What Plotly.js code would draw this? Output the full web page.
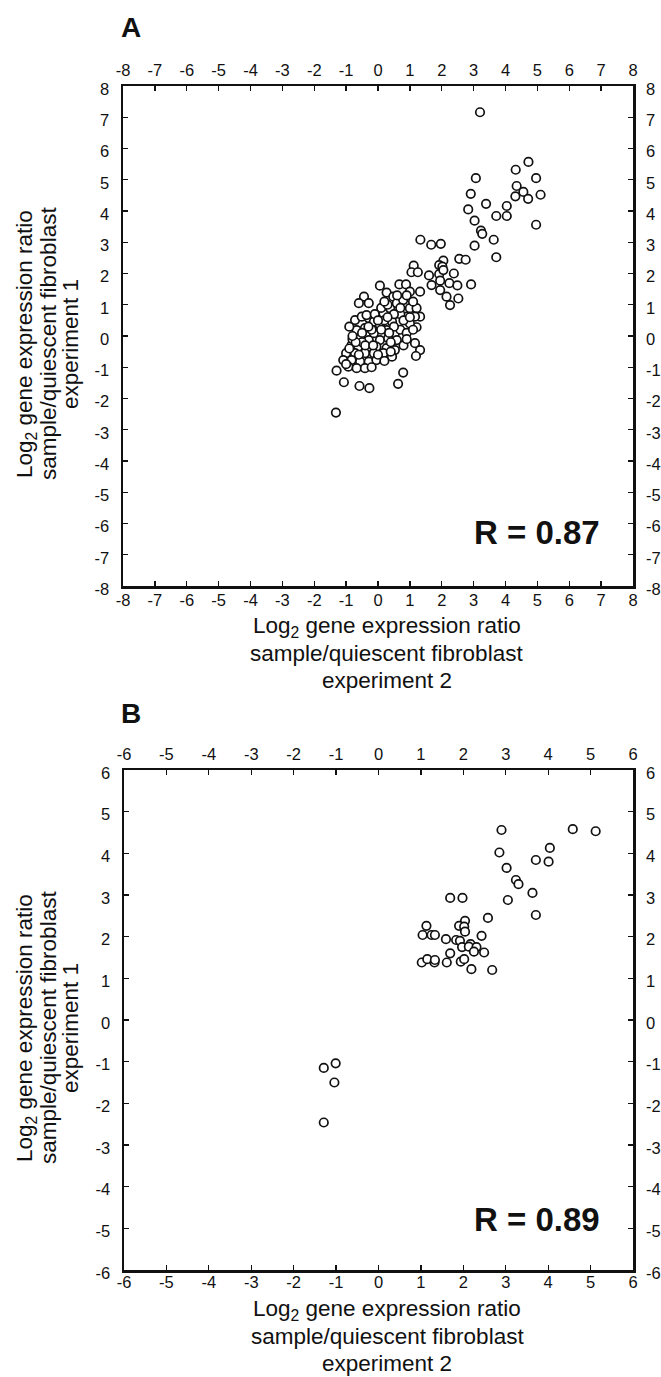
<!DOCTYPE html>
<html>
<head>
<meta charset="utf-8">
<script src="https://cdn.plot.ly/plotly-3.0.1.min.js"></script>
<style>html,body{margin:0;padding:0;background:#fff;}#chart{width:661px;height:1377px;}</style>
</head>
<body>
<div id="chart"></div>
<script>
// ---- Panel A data (Log2 ratio, experiment 2 vs experiment 1) ----
const xA = [3.2,4.72,4.32,3.07,4.96,4.35,4.56,4.31,4.71,5.1,2.91,3.39,2.83,4.04,3.71,4.04,3.03,4.96,3.23,3.27,3.63,3.03,3.71,
  1.33,1.67,1.97,2.55,2.75,2.05,1.92,2.02,1.12,1.05,1.25,1.6,1.92,2.38,2.05,0.06,0.67,0.88,1.68,1.95,2.24,2.49,2.92,
  1.95,2.15,2.26,2.52,0.27,0.48,1.0,1.32,-0.44,-0.6,-0.29,0.17,0.38,0.59,0.79,1.0,1.21,1.32,1.16,0.9,1.21,0.65,0.44,
  -0.72,-0.51,-0.29,-0.13,0.06,0.27,-0.67,-0.41,-0.13,-0.56,-0.29,0.06,0.32,0.53,0.59,-0.83,-0.62,-0.36,-0.05,0.27,0.53,
  1.16,1.32,1.19,-1.0,-0.72,-0.41,-0.13,0.17,0.44,-1.09,-0.83,-0.56,-0.29,-0.05,-0.93,-0.67,-0.41,-1.3,0.79,-1.07,-0.58,
  -0.27,0.63,-1.32,-0.36,
  0.1,0.3,0.7,0.9,1.1,0.5,0.2,-0.2,0.7,0.9,1.0,-0.5,0.4,0.0,0.8,-0.8,-0.9,
  -0.9,-0.7,-0.5,-0.3,-0.1,0.1,0.3,0.5,0.7,0.8,1.0,0.6,0.4,0.2,-0.2,-0.6,-1.0,-0.8,0.0,0.2,0.9,1.1,-0.4,-0.15,0.35];
const yA = [7.16,5.57,5.32,5.05,5.05,4.8,4.61,4.47,4.39,4.52,4.55,4.23,4.05,4.16,3.84,3.84,3.69,3.56,3.37,3.27,3.08,2.89,2.52,
  3.08,2.92,2.95,2.47,2.44,2.41,2.27,2.22,2.25,2.04,2.04,1.94,1.98,2.0,2.11,1.61,1.65,1.65,1.63,1.77,1.69,1.62,1.65,
  1.47,1.26,0.99,1.2,1.39,1.26,1.42,1.42,1.26,1.05,1.05,0.73,0.89,1.05,1.15,0.89,0.89,0.62,0.62,0.62,0.28,0.46,0.46,
  0.51,0.62,0.57,0.46,0.35,0.19,0.19,0.25,0.09,-0.07,-0.13,-0.13,-0.07,0.09,-0.13,-0.29,-0.34,-0.39,-0.34,-0.39,-0.45,
  -0.23,-0.45,-0.64,-0.55,-0.55,-0.55,-0.55,-0.55,-0.66,-0.77,-0.77,-0.82,-0.82,-0.77,-0.98,-1.03,-1.03,-1.11,-1.17,-1.48,-1.6,
  -1.67,-1.53,-2.45,0.67,
  0.9,1.0,0.7,1.3,1.1,0.7,0.5,0.2,0.2,0.1,0.4,-0.2,-0.2,-0.6,-0.3,-0.1,0.3,
  -0.4,-0.2,0.1,0.3,0.7,0.2,0.6,0.3,0.9,0.5,0.6,1.3,-0.5,-0.8,-1.0,-0.6,-0.9,0.0,0.5,1.1,-0.1,0.2,-0.3,-0.3,0.1];

// ---- Panel B data ----
const xB = [2.9,4.58,5.12,4.04,2.85,3.71,4.01,3.02,3.24,3.3,3.63,3.05,3.71,1.69,1.98,2.58,1.13,2.04,1.9,2.02,2.04,1.04,1.25,1.33,
  1.59,2.43,1.83,1.92,2.17,1.97,2.13,2.31,2.25,2.49,1.69,1.02,1.15,1.32,1.33,1.61,1.94,2.02,2.19,2.68,
  -1.29,-1.01,-1.04,-1.29];
const yB = [4.56,4.58,4.53,4.13,4.02,3.84,3.8,3.65,3.36,3.26,3.05,2.88,2.52,2.93,2.93,2.45,2.26,2.38,2.26,2.24,2.12,2.04,2.04,2.04,
  1.94,2.02,1.92,1.9,1.82,1.75,1.76,1.75,1.64,1.62,1.6,1.38,1.46,1.38,1.44,1.38,1.4,1.46,1.22,1.2,
  -1.15,-1.04,-1.5,-2.46];

const ticksA = [-8,-7,-6,-5,-4,-3,-2,-1,0,1,2,3,4,5,6,7,8];
const ticksB = [-6,-5,-4,-3,-2,-1,0,1,2,3,4,5,6];
const panelLabels = ['A', 'B'];
const rTexts = ['R = 0.87', 'R = 0.89'];
const xTitleLines = ['Log<sub>2</sub> gene expression ratio', 'sample/quiescent fibroblast', 'experiment 2'];
const yTitleLines = ['Log<sub>2</sub> gene expression ratio', 'sample/quiescent fibroblast', 'experiment 1'];

const W = 661, H = 1377;
const px = v => v / W;
const py = v => 1 - v / H;

const marker = {symbol: 'circle', size: 8.5, color: '#fff', line: {color: '#111', width: 1.7}};
const ghost = {symbol: 'circle', size: 1, opacity: 0};
const traces = [
  {type: 'scatter', mode: 'markers', x: xA, y: yA, xaxis: 'x', yaxis: 'y', marker: marker, hoverinfo: 'x+y'},
  {type: 'scatter', mode: 'markers', x: xA, y: yA, xaxis: 'x2', yaxis: 'y2', marker: ghost, hoverinfo: 'skip'},
  {type: 'scatter', mode: 'markers', x: xB, y: yB, xaxis: 'x3', yaxis: 'y3', marker: marker, hoverinfo: 'x+y'},
  {type: 'scatter', mode: 'markers', x: xB, y: yB, xaxis: 'x4', yaxis: 'y4', marker: ghost, hoverinfo: 'skip'}
];

const FAM = 'Liberation Sans, Arial, sans-serif';
const tickFont = {size: 16.5, color: '#111', family: FAM};
function ax(extra, ticks) {
  return Object.assign({
    range: [ticks[0], ticks[ticks.length - 1]],
    tickvals: ticks, ticktext: ticks.map(String),
    ticks: 'inside', ticklen: 5, tickwidth: 1.3, tickcolor: '#111',
    showline: true, linewidth: 2.5, linecolor: '#111', mirror: 'ticks',
    showgrid: false, zeroline: false, tickfont: tickFont,
    automargin: false, fixedrange: true
  }, extra);
}
// label-only axes on the top / right sides
function lab(extra, ticks) {
  return ax(Object.assign({showline: false, ticks: '', mirror: false}, extra), ticks);
}

// panel frames (pixels): left, right, top, bottom
const frames = [[123, 633, 86, 586], [124, 633, 770, 1270]];
const dx = f => [px(f[0]), px(f[1])];
const dy = f => [py(f[3]), py(f[2])];

const layout = {
  width: W, height: H,
  margin: {l: 0, r: 0, t: 0, b: 0},
  paper_bgcolor: '#fff', plot_bgcolor: '#fff',
  showlegend: false,
  font: {family: FAM, color: '#111'},
  xaxis: ax({domain: dx(frames[0]), anchor: 'y', side: 'bottom', ticklabelstandoff: -2}, ticksA),
  xaxis2: lab({domain: dx(frames[0]), anchor: 'y2', overlaying: 'x', side: 'top', ticklabelstandoff: 6}, ticksA),
  yaxis: ax({domain: dy(frames[0]), anchor: 'x', side: 'left', ticklabelstandoff: 8, ticklabelshift: 3}, ticksA),
  yaxis2: lab({domain: dy(frames[0]), anchor: 'x2', overlaying: 'y', side: 'right', ticklabelstandoff: 12, ticklabelshift: 3}, ticksA),
  xaxis3: ax({domain: dx(frames[1]), anchor: 'y3', side: 'bottom', ticklabelstandoff: -4}, ticksB),
  xaxis4: lab({domain: dx(frames[1]), anchor: 'y4', overlaying: 'x3', side: 'top', ticklabelstandoff: 6}, ticksB),
  yaxis3: ax({domain: dy(frames[1]), anchor: 'x3', side: 'left', ticklabelstandoff: 8, ticklabelshift: 3}, ticksB),
  yaxis4: lab({domain: dy(frames[1]), anchor: 'x4', overlaying: 'y3', side: 'right', ticklabelstandoff: 12, ticklabelshift: 3}, ticksB),
  annotations: []
};

const titleFont = {size: 22.5, color: '#111', family: FAM};
frames.forEach((f, i) => {
  const cx = (f[0] + f[1]) / 2 + 9;
  const cy = (f[2] + f[3]) / 2 + 8;
  // panel letter
  layout.annotations.push({text: '<b>' + panelLabels[i] + '</b>', xref: 'paper', yref: 'paper',
    x: px(119), y: py(i === 0 ? 27 : 713), xanchor: 'left', yanchor: 'middle', showarrow: false,
    font: {size: 28, color: '#111', family: FAM}});
  // correlation
  layout.annotations.push({text: '<b>' + rTexts[i] + '</b>', xref: 'paper', yref: 'paper',
    x: px(602), y: py(f[3] - (i === 0 ? 54 : 51)), xanchor: 'right', yanchor: 'middle', showarrow: false,
    font: {size: 33, color: '#111', family: FAM}});
  // x-axis title (three lines)
  const top = i === 0 ? 41 : 40;
  xTitleLines.forEach((t, k) => {
    layout.annotations.push({text: t, xref: 'paper', yref: 'paper',
      x: px(cx), y: py(f[3] + top + k * 26.5), xanchor: 'center', yanchor: 'middle', showarrow: false,
      font: titleFont});
  });
  // y-axis title (three rotated lines)
  yTitleLines.forEach((t, k) => {
    layout.annotations.push({text: t, xref: 'paper', yref: 'paper', textangle: -90,
      x: px(26 + k * 22), y: py(cy), xanchor: 'center', yanchor: 'middle', showarrow: false,
      font: titleFont});
  });
});

Plotly.newPlot('chart', traces, layout, {displayModeBar: false, staticPlot: true});
</script>
</body>
</html>
